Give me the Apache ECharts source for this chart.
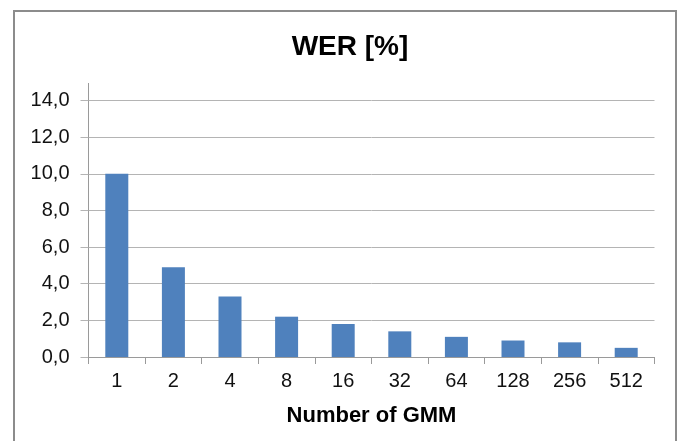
<!DOCTYPE html>
<html>
<head>
<meta charset="utf-8">
<script src="https://cdn.jsdelivr.net/npm/echarts@6/dist/echarts.min.js"></script>
<style>
  html, body { margin: 0; padding: 0; background: #ffffff; }
  #chart { width: 683px; height: 441px; }
</style>
</head>
<body>
<div id="chart"></div>
<script>
// Word error rate against the number of Gaussian mixture components
const categories = ['1', '2', '4', '8', '16', '32', '64', '128', '256', '512'];
const werValues = [10.0, 4.9, 3.3, 2.2, 1.8, 1.4, 1.1, 0.9, 0.8, 0.5];
const titleText = 'WER [%]';
const xAxisName = 'Number of GMM';

const chart = echarts.init(document.getElementById('chart'), null, { renderer: 'canvas' });

const gridLeft = 88.5, gridRight = 28.5, gridTop = 100.5, gridBottom = 84;

chart.setOption({
  backgroundColor: '#ffffff',
  animation: false,
  title: {
    text: titleText,
    left: 345,
    top: 28,
    textAlign: 'center',
    textStyle: { fontFamily: 'Liberation Sans', fontSize: 28, fontWeight: 'bold', color: '#000000' }
  },
  grid: { left: gridLeft, right: gridRight, top: gridTop, bottom: gridBottom },
  xAxis: {
    type: 'category',
    data: categories,
    name: xAxisName,
    nameLocation: 'middle',
    nameGap: 48,
    nameTextStyle: { fontFamily: 'Liberation Sans', fontSize: 22, fontWeight: 'bold', color: '#000000' },
    axisLine: { lineStyle: { color: '#9a9a9a', width: 1 } },
    axisTick: { show: true, length: 7, lineStyle: { color: '#9a9a9a' } },
    axisLabel: { fontFamily: 'Liberation Sans', fontSize: 20, color: '#111111', margin: 14 }
  },
  yAxis: {
    type: 'value',
    min: 0,
    max: 14,
    interval: 2,
    axisLine: { show: true, lineStyle: { color: '#9a9a9a', width: 1 } },
    axisTick: { show: true, length: 8, lineStyle: { color: '#b4b4b4' } },
    splitLine: { lineStyle: { color: '#b4b4b4', width: 1 } },
    axisLabel: {
      fontFamily: 'Liberation Sans', fontSize: 20, color: '#111111', margin: 19,
      formatter: v => v.toFixed(1).replace('.', ',')
    }
  },
  series: [{
    type: 'bar',
    data: werValues,
    barWidth: 23,
    itemStyle: { color: '#4f81bd' }
  }],
  graphic: [
    // chart frame
    { type: 'rect', shape: { x: 14, y: 11, width: 662, height: 460 },
      style: { fill: 'none', stroke: '#8c8c8c', lineWidth: 2 }, silent: true },
    // value axis line running a little above the top gridline
    { type: 'line', shape: { x1: 88.5, y1: 83, x2: 88.5, y2: 100.5 },
      style: { stroke: '#9a9a9a', lineWidth: 1 }, silent: true }
  ]
});
</script>
</body>
</html>
